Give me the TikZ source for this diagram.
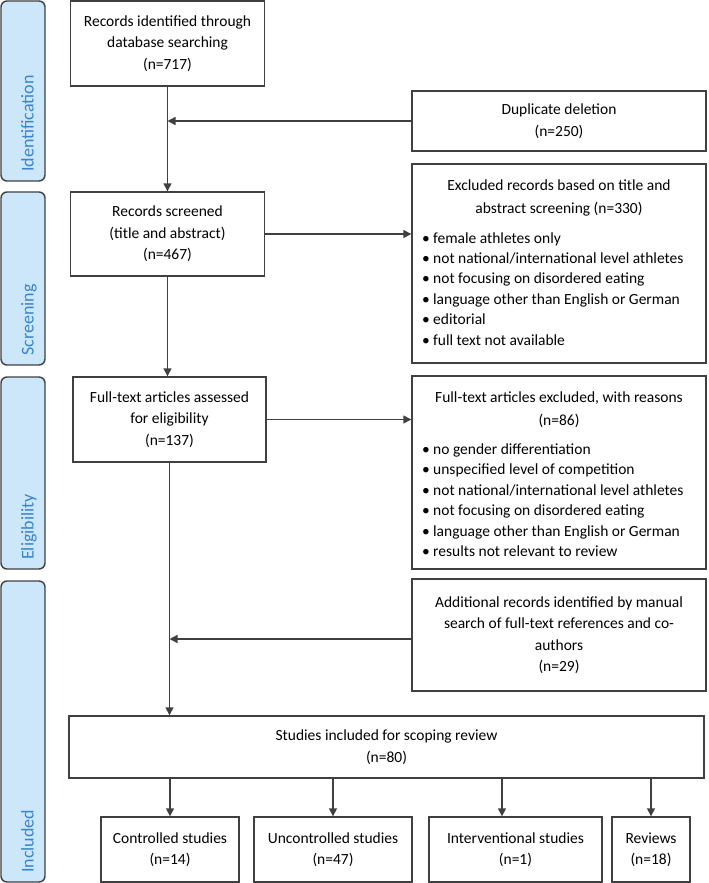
\documentclass[tikz,border=0pt]{standalone}
\usepackage{fontspec}
\setmainfont{Carlito}
\usetikzlibrary{arrows.meta}
\definecolor{edgec}{HTML}{404040}
\definecolor{phasefill}{HTML}{CDE7FA}
\definecolor{phasetext}{HTML}{3A85C9}
\newcommand\mybul{\makebox[11pt][l]{\textbullet}}
\begin{document}
\begin{tikzpicture}[x=1pt,y=-1pt,
  box/.style={draw=edgec, line width=1.4pt, fill=white, inner sep=0pt, align=center,
    font=\fontsize{15.5}{21.5}\selectfont},
  phasebox/.style={draw=edgec, line width=1.4pt, fill=phasefill, rounded corners=6pt, inner sep=0pt},
  phaselbl/.style={text=phasetext, inner sep=0pt, rotate=90, anchor=base west,
    font=\fontsize{18}{22}\selectfont},
  txt/.style={inner sep=0pt, font=\fontsize{15.5}{21.5}\selectfont},
  arr/.style={draw=edgec, line width=1.4pt, -{Triangle[length=8pt,width=8pt]}}]
\useasboundingbox (0,0) rectangle (709,883);

% phase bars
\node[phasebox, minimum width=44pt, minimum height=180pt] (pid) at (23,91) {};
\node[phasebox, minimum width=44pt, minimum height=173pt] (psc) at (23,278.5) {};
\node[phasebox, minimum width=44pt, minimum height=192pt] (pel) at (23,473) {};
\node[phasebox, minimum width=44pt, minimum height=301pt] (pin) at (23,731.5) {};
\node[phaselbl] (lid) at (33.5,172) {Identification};
\node[phaselbl] (lsc) at (33.5,356) {Screening};
\node[phaselbl] (lel) at (33.5,560) {Eligibility};
\node[phaselbl] (lin) at (33.5,873) {Included};

% main boxes
\node[box, minimum width=194pt, minimum height=85pt] (ident) at (167.5,43.5)
  {Records identified through\\database searching\\(n=717)};
\node[box, minimum width=294pt, minimum height=60pt] (dup) at (559,121)
  {Duplicate deletion\\(n=250)};
\node[box, minimum width=194pt, minimum height=84pt] (screen) at (167.5,234)
  {Records screened\\(title and abstract)\\(n=467)};
\node[box, minimum width=294pt, minimum height=199pt] (excl) at (559,263.5) {};
\node[box, minimum width=193pt, minimum height=85pt] (full) at (169.5,419.5)
  {Full-text articles assessed\\for eligibility\\(n=137)};
\node[box, minimum width=294pt, minimum height=193pt] (ftex) at (559,472.5) {};
\node[box, minimum width=294pt, minimum height=112pt] (addl) at (559,635)
  {Additional records identified by manual\\search of full-text references and co-\\authors\\(n=29)};
\node[box, minimum width=635pt, minimum height=62pt] (incl) at (386.5,747)
  {Studies included for scoping review\\(n=80)};
\node[box, minimum width=138pt, minimum height=65pt] (ctrl) at (170,849.5)
  {Controlled studies\\(n=14)};
\node[box, minimum width=158pt, minimum height=65pt] (unctrl) at (333,849.5)
  {Uncontrolled studies\\(n=47)};
\node[box, minimum width=173pt, minimum height=65pt] (interv) at (515.5,849.5)
  {Interventional studies\\(n=1)};
\node[box, minimum width=78pt, minimum height=65pt] (rev) at (651,849.5)
  {Reviews\\(n=18)};

% texts of the bullet boxes
\node[txt, anchor=base] (exta) at (559,190) {Excluded records based on title and};
\node[txt, anchor=base] (extb) at (559,213) {abstract screening (n=330)};
\foreach \t [count=\i from 0] in {female athletes only, not national/international level athletes,
  not focusing on disordered eating, language other than English or German, editorial,
  full text not available}
  \node[txt, anchor=base west] (exb\i) at (422,243+20.4*\i) {\mybul\t};
\node[txt, anchor=base] (ftta) at (559,402) {Full-text articles excluded, with reasons};
\node[txt, anchor=base] (fttb) at (559,425) {(n=86)};
\foreach \t [count=\i from 0] in {no gender differentiation, unspecified level of competition,
  not national/international level athletes, not focusing on disordered eating,
  language other than English or German, results not relevant to review}
  \node[txt, anchor=base west] (ftb\i) at (422,454+20.5*\i) {\mybul\t};

% connector end points on the bottom row
\coordinate (xa) at (170,0);
\coordinate (xb) at (333,0);
\coordinate (xc) at (502,0);
\coordinate (xd) at (651,0);

% connectors
\draw[arr] (ident.south) -- (screen.north);
\draw[arr] (dup.west) -- (dup.west -| ident.south);
\draw[arr] (screen.east) -- (screen.east -| excl.west);
\draw[arr] (screen.south) -- (screen.south |- full.north);
\draw[arr] (full.east) -- (full.east -| ftex.west);
\draw[arr] (full.south) -- (full.south |- incl.north);
\draw[arr] ([yshift=-4pt]addl.west) -- ([yshift=-4pt]addl.west -| full.south);
\draw[arr] (incl.south -| xa) -- (ctrl.north -| xa);
\draw[arr] (incl.south -| xb) -- (unctrl.north -| xb);
\draw[arr] (incl.south -| xc) -- (interv.north -| xc);
\draw[arr] (incl.south -| xd) -- (rev.north -| xd);
\end{tikzpicture}
\end{document}
